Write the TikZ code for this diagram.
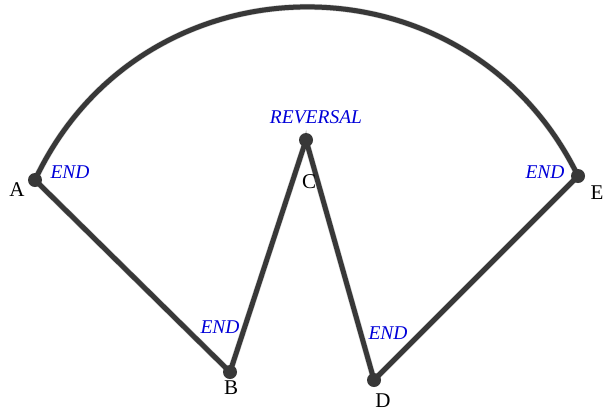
\documentclass[tikz,border=0pt]{standalone}
\usepackage{fontspec}
\setmainfont{Liberation Serif}
\begin{document}
\begin{tikzpicture}[x=1pt,y=-1pt,
  seg/.style={draw=black!78,line width=5pt,line cap=round},
  shad/.style={draw=black!18,line width=6pt,line cap=round},
  dot/.style={circle,fill=black!78,inner sep=0pt,minimum size=14pt},
  lbl/.style={text=blue!85!black,font=\fontsize{19.5}{22}\selectfont\itshape,inner sep=0pt},
  ptname/.style={text=black,font=\fontsize{21}{24}\selectfont,inner sep=0pt}]
\useasboundingbox[fill=white] (0,0) rectangle (604,416);
\coordinate (a) at (35,180);
\coordinate (b) at (230,372);
\coordinate (c) at (306,140);
\coordinate (d) at (374,380);
\coordinate (e) at (578,176);
% shadows
\begin{scope}[shift={(3,3)}]
\draw[shad] (a) to[bend left=64.4,looseness=1.19] (e);
\draw[shad] (a) -- (b) -- (c) -- (d) -- (e);
\end{scope}
% lines
\draw[seg] (a) to[bend left=64.4,looseness=1.19] (e);
\draw[seg] (a) -- (b);
\draw[seg] (b) -- (c);
\draw[seg] (c) -- (d);
\draw[seg] (d) -- (e);
\node[dot] (A) at (a) {};
\node[dot] (B) at (b) {};
\node[dot] (C) at (c) {};
\node[dot] (D) at (d) {};
\node[dot] (E) at (e) {};
% names
\node[ptname] (nA) at (17,190) {A};
\node[ptname] (nB) at (231,388) {B};
\node[ptname] (nC) at (309,182) {C};
\node[ptname] (nD) at (383,401) {D};
\node[ptname] (nE) at (597,193) {E};
% labels
\node[lbl] (lA) at (70,172) {END};
\node[lbl] (lB) at (220,327) {END};
\node[lbl] (lC) at (316,117) {REVERSAL};
\node[lbl] (lD) at (388,333) {END};
\node[lbl] (lE) at (545,172) {END};
\end{tikzpicture}
\end{document}
